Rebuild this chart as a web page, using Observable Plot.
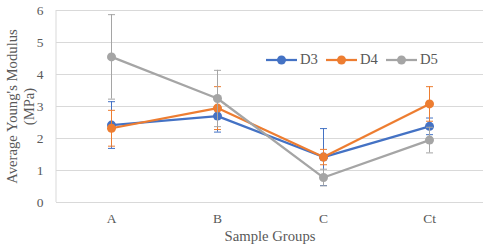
<!DOCTYPE html>
<html><head><meta charset="utf-8">
<script src="https://cdn.jsdelivr.net/npm/d3@7"></script>
<script src="https://cdn.jsdelivr.net/npm/@observablehq/plot@0.6"></script>
<style>
body{margin:0;background:#fff;}
#wrap{position:relative;width:489px;height:251px;font-family:"Liberation Serif","Times New Roman",serif;}
#legend{position:absolute;left:266px;top:51px;display:flex;align-items:center;font-size:14.7px;color:#595959;font-family:"Liberation Serif",serif;}
#legend .it{display:flex;align-items:center;margin-right:8px;}
#legend svg{margin-right:3px;}
</style></head>
<body><div id="wrap"><div id="legend"></div></div>
<script>
const categories = ["A", "B", "C", "Ct"];
const seriesNames = ["D3", "D4", "D5"];
const colors = ["#4472C4", "#ED7D31", "#A5A5A5"];
const d3Values = [2.42, 2.70, 1.42, 2.38];
const d3Errors = [0.73, 0.50, 0.89, 0.26];
const d4Values = [2.32, 2.95, 1.42, 3.08];
const d4Errors = [0.56, 0.67, 0.24, 0.54];
const d5Values = [4.55, 3.25, 0.78, 1.95];
const d5Errors = [1.32, 0.88, 0.26, 0.40];
const yTicks = [0, 1, 2, 3, 4, 5, 6];

const valueSets = [d3Values, d4Values, d5Values];
const errorSets = [d3Errors, d4Errors, d5Errors];
const data = [];
seriesNames.forEach((s, i) => categories.forEach((c, j) => {
  data.push({series: s, cat: c, v: valueSets[i][j], lo: valueSets[i][j] - errorSets[i][j], hi: valueSets[i][j] + errorSets[i][j]});
}));

const cap = {draw(ctx) { ctx.moveTo(-3.5, 0); ctx.lineTo(3.5, 0); }};

const leftLine = (index, scales, values, dims) => {
  const ns = "http://www.w3.org/2000/svg";
  const l = document.createElementNS(ns, "line");
  l.setAttribute("x1", dims.marginLeft); l.setAttribute("x2", dims.marginLeft);
  l.setAttribute("y1", dims.marginTop); l.setAttribute("y2", dims.height - dims.marginBottom);
  l.setAttribute("stroke", "#d9d9d9");
  return l;
};

const marks = [
  Plot.gridY(yTicks, {stroke: "#d9d9d9", strokeOpacity: 1}),
  leftLine,
  Plot.axisY(yTicks, {tickSize: 0, tickPadding: 13, fontSize: 13.5, label: null}),
  Plot.axisX({tickSize: 0, tickPadding: 11, fontSize: 13.5, label: null}),
  Plot.text(["Average Young's Modulus\n(MPa)"], {frameAnchor: "left", textAnchor: "middle", rotate: -90, dx: -36.5, fontSize: 14.7, lineHeight: 1.15, fill: "#595959"}),
  Plot.text(["Sample Groups"], {frameAnchor: "bottom", dy: 38, fontSize: 14.7, fill: "#595959"})
];
seriesNames.forEach((s, i) => {
  const sd = data.filter(d => d.series === s);
  marks.push(Plot.line(sd, {x: "cat", y: "v", stroke: colors[i], strokeWidth: 2.25}));
  marks.push(Plot.ruleX(sd, {x: "cat", y1: "lo", y2: "hi", stroke: colors[i], strokeWidth: 1}));
  marks.push(Plot.dot(sd, {x: "cat", y: "lo", symbol: cap, r: 3, stroke: colors[i], strokeWidth: 1, fill: "none"}));
  marks.push(Plot.dot(sd, {x: "cat", y: "hi", symbol: cap, r: 3, stroke: colors[i], strokeWidth: 1, fill: "none"}));
  marks.push(Plot.dot(sd, {x: "cat", y: "v", r: 4.5, fill: colors[i], stroke: "none"}));
});

const chart = Plot.plot({
  width: 489, height: 251,
  marginLeft: 56, marginRight: 6, marginTop: 10, marginBottom: 49,
  style: {fontFamily: "Liberation Serif, Times New Roman, serif", color: "#595959", background: "#fff"},
  x: {type: "point", domain: categories, padding: 0.5},
  y: {domain: [0, 6]},
  marks
});
document.getElementById("wrap").prepend(chart);

const leg = document.getElementById("legend");
seriesNames.forEach((s, i) => {
  const it = document.createElement("div"); it.className = "it";
  it.innerHTML = `<svg width="31" height="10"><line x1="0" x2="31" y1="5" y2="5" stroke="${colors[i]}" stroke-width="2.25"/><circle cx="15.5" cy="5" r="4.5" fill="${colors[i]}"/></svg><span>${s}</span>`;
  leg.appendChild(it);
});
</script></body></html>
